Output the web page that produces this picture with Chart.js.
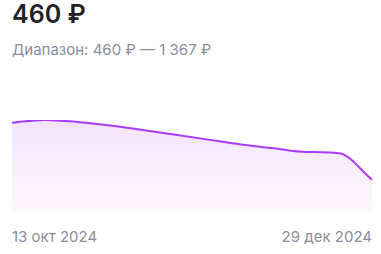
<!DOCTYPE html>
<html>
<head>
<meta charset="utf-8">
<script src="https://cdn.jsdelivr.net/npm/chart.js@4"></script>
<style>
  html, body { margin: 0; padding: 0; background: #fff; width: 381px; height: 254px; overflow: hidden; }
  body { position: relative; font-family: Inter, "Noto Sans", sans-serif; }
  .price { position: absolute; left: 12px; top: 2px; font-size: 25px; line-height: 1; font-weight: 600; color: #222226; }
  .range { position: absolute; left: 12px; top: 42px; font-size: 15px; line-height: 1; color: #8d8d9b; }
  .wrap { position: absolute; left: 0; top: 110px; width: 381px; height: 100px; }
  .eixo { position: absolute; top: 229px; font-size: 15px; line-height: 1; color: #8d8d9b; }
</style>
</head>
<body>
<div class="price" id="price"></div>
<div class="range" id="range"></div>
<div class="wrap"><canvas id="chartPreco"></canvas></div>
<div class="eixo" id="eixoIni" style="left:12px"></div>
<div class="eixo" id="eixoFim" style="right:9px"></div>
<script>
// ---- dados ----
const datas = ["13 окт 2024","20 окт 2024","27 окт 2024","3 ноя 2024","10 ноя 2024","17 ноя 2024",
               "24 ноя 2024","1 дек 2024","8 дек 2024","15 дек 2024","22 дек 2024","29 дек 2024"];
const precos = [1326, 1367, 1337, 1285, 1215, 1142, 1069, 996, 937, 881, 861, 460];
const precoAtual = "460 ₽";
const faixaTexto = "Диапазон: 460 ₽ — 1 367 ₽";

document.getElementById("price").textContent = precoAtual;
document.getElementById("range").textContent = faixaTexto;
// só a primeira e a última data aparecem no eixo
document.getElementById("eixoIni").textContent = datas[0];
document.getElementById("eixoFim").textContent = datas[datas.length - 1];

new Chart(document.getElementById("chartPreco"), {
  type: "line",
  data: {
    labels: datas,
    datasets: [{
      data: precos,
      borderColor: "#a83cf8",
      borderWidth: 2,
      pointRadius: 0,
      cubicInterpolationMode: "monotone",
      fill: "origin",
      backgroundColor: (ctx) => {
        const area = ctx.chart.chartArea;
        if (!area) return "rgba(168,60,248,0.1)";
        const g = ctx.chart.ctx.createLinearGradient(0, area.top, 0, area.bottom);
        g.addColorStop(0, "#f3e4fe");
        g.addColorStop(1, "#fdf7fc");
        return g;
      }
    }]
  },
  options: {
    responsive: true, maintainAspectRatio: false, animation: false,
    layout: { padding: { left: 12, right: 9, top: 10, bottom: 0 } },
    plugins: { legend: { display: false }, tooltip: { enabled: false } },
    scales: {
      x: { display: false },
      y: { display: false, min: 0, max: 1367 }
    }
  }
});
</script>
</body>
</html>
